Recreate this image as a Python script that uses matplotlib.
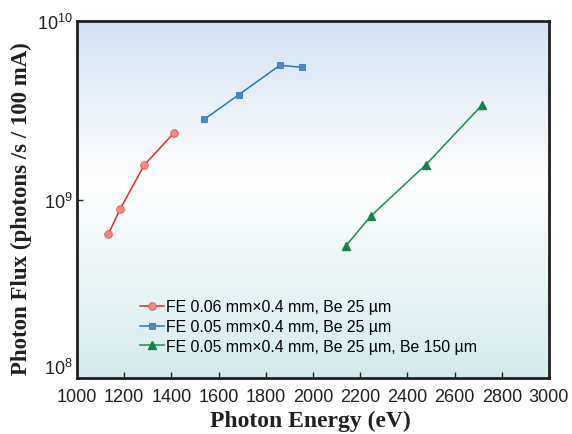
import numpy as np
import matplotlib
matplotlib.use("Agg")
import matplotlib.pyplot as plt
from matplotlib.colors import LinearSegmentedColormap

# data
red_x = [1133, 1182, 1285, 1412]
red_y = [6.4e8, 8.8e8, 1.56e9, 2.37e9]
blue_x = [1539, 1685, 1860, 1955]
blue_y = [2.81e9, 3.86e9, 5.65e9, 5.5e9]
green_x = [2138, 2244, 2479, 2716]
green_y = [5.47e8, 8.05e8, 1.57e9, 3.38e9]
labels = ["FE 0.06 mm\u00d70.4 mm, Be 25 \u00b5m",
          "FE 0.05 mm\u00d70.4 mm, Be 25 \u00b5m",
          "FE 0.05 mm\u00d70.4 mm, Be 25 \u00b5m, Be 150 \u00b5m"]
xticks = [1000, 1200, 1400, 1600, 1800, 2000, 2200, 2400, 2600, 2800, 3000]
yticks = [1e8, 1e9, 1e10]
ytick_labels = ["$10^{8}$", "$10^{9}$", "$10^{10}$"]

plt.rcParams['font.family'] = ['Liberation Sans', 'DejaVu Sans']
plt.rcParams['mathtext.fontset'] = 'custom'
plt.rcParams['mathtext.rm'] = 'Liberation Sans'

fig = plt.figure(figsize=(5.72, 4.35), dpi=100)
ax = fig.add_axes([77/572, 1 - 379/435, (549-77)/572, (379-22)/435])

# background gradient: light blue top -> white -> light teal bottom
cmap = LinearSegmentedColormap.from_list(
    "bg", [(0.0, "#d4eaed"), (0.55, "#ffffff"), (1.0, "#d3e2f3")])
grad = np.linspace(0, 1, 256).reshape(-1, 1)
ax.imshow(grad, aspect="auto", cmap=cmap, origin="lower",
          extent=[0, 1, 0, 1], transform=ax.transAxes, zorder=0)

ax.plot(red_x, red_y, color="#e8262b", lw=1.1, marker="o", ms=5.5,
        mfc="#f38a7c", mec="#e8564f", mew=0.6, label=labels[0], zorder=3)
ax.plot(blue_x, blue_y, color="#1f78c8", lw=1.1, marker="s", ms=5,
        mfc="#4f87c6", mec="#3a78bd", mew=0.6, label=labels[1], zorder=3)
ax.plot(green_x, green_y, color="#0f9448", lw=1.1, marker="^", ms=6,
        mfc="#17824a", mec="#17824a", label=labels[2], zorder=3)

ax.set_yscale("log")
ax.set_xlim(1000, 3000)
ax.set_ylim(1e8, 1e10)
ax.set_xticks(xticks)
ax.set_xticklabels([str(t) for t in xticks])
ax.set_yticks(yticks)
ax.set_yticklabels(ytick_labels)
ax.yaxis.set_minor_locator(matplotlib.ticker.NullLocator())
ax.tick_params(direction="in", length=4, width=1, labelsize=13,
               colors="#231f20", pad=3)
ax.tick_params(axis="x", pad=7)
# lift the bottom y label so it clears the 1000 label
ax.get_yticklabels()[0].set_va("bottom")
for s in ax.spines.values():
    s.set_linewidth(2)
    s.set_color("#231f20")

ax.set_xlabel("Photon Energy (eV)", family="Liberation Serif",
              fontweight="bold", fontsize=17, color="#231f20")
ax.xaxis.set_label_coords(0.495, -0.088)
ax.set_ylabel("Photon Flux (photons /s / 100 mA)", family="Liberation Serif",
              fontweight="bold", fontsize=16.5, color="#231f20")
ax.yaxis.set_label_coords(-0.095, 0.478)

ax.legend(loc="lower left", bbox_to_anchor=(0.12, 0.05), frameon=False,
          fontsize=11.4, handlelength=1.5, handletextpad=0.15,
          labelspacing=0.3, borderaxespad=0)

fig.savefig("out.png", dpi=100)
